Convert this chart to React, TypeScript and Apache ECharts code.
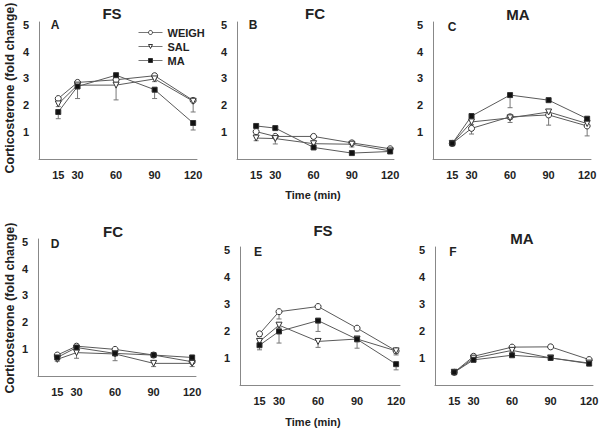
import React, { useEffect, useRef } from "react";
import * as echarts from "echarts";

const times = [15, 30, 60, 90, 120];
const yTicks = [1, 2, 3, 4, 5];
const seriesNames = ["WEIGH", "SAL", "MA"];
const panelTitles = ["FS", "FC", "MA", "FC", "FS", "MA"];
const panelLetters = ["A", "B", "C", "D", "E", "F"];
const yName = "Corticosterone (fold change)";
const xName = "Time (min)";

// Panel A (FS)
const weighA = [2.25, 2.85, 2.95, 3.1, 2.18];
const salA = [2.05, 2.75, 2.75, 2.98, 2.15];
const maA = [1.75, 2.7, 3.12, 2.58, 1.34];
const errWeighA = [0.05, 0.08, 0.1, 0.08, 0.05];
const errSalA = [0.1, 0.1, 0.55, 0.1, 0.4];
const errMaA = [0.25, 0.45, 0.1, 0.33, 0.26];
// Panel B (FC)
const weighB = [1.02, 0.84, 0.84, 0.6, 0.38];
const salB = [0.78, 0.76, 0.57, 0.55, 0.3];
const maB = [1.23, 1.15, 0.43, 0.22, 0.28];
const errWeighB = [0.08, 0.08, 0.08, 0.06, 0.05];
const errSalB = [0.1, 0.2, 0.1, 0.1, 0.08];
const errMaB = [0.05, 0.05, 0.05, 0.04, 0.05];
// Panel C (MA)
const weighC = [0.58, 1.14, 1.57, 1.64, 1.23];
const salC = [0.58, 1.38, 1.53, 1.75, 1.32];
const maC = [0.58, 1.6, 2.38, 2.19, 1.5];
const errWeighC = [0.04, 0.21, 0.1, 0.38, 0.37];
const errSalC = [0.04, 0.1, 0.17, 0.1, 0.1];
const errMaC = [0.04, 0.05, 0.47, 0.05, 0.05];
// Panel D (FC)
const weighD = [0.78, 1.11, 0.99, 0.78, 0.53];
const salD = [0.62, 0.87, 0.82, 0.47, 0.47];
const maD = [0.69, 1.06, 0.84, 0.78, 0.69];
const errWeighD = [0.05, 0.05, 0.05, 0.05, 0.05];
const errSalD = [0.07, 0.21, 0.25, 0.12, 0.12];
const errMaD = [0.05, 0.05, 0.05, 0.05, 0.05];
// Panel E (FS)
const weighE = [1.89, 2.71, 2.9, 2.1, 1.26];
const salE = [1.61, 2.21, 1.61, 1.7, 1.26];
const maE = [1.47, 1.98, 2.38, 1.69, 0.77];
const errWeighE = [0.1, 0.27, 0.1, 0.1, 0.15];
const errSalE = [0.1, 0.1, 0.22, 0.1, 0.1];
const errMaE = [0.17, 0.43, 0.4, 0.33, 0.21];
// Panel F (MA)
const weighF = [0.47, 1.06, 1.4, 1.41, 0.94];
const salF = [0.47, 0.99, 1.28, 1.0, 0.81];
const maF = [0.47, 0.93, 1.1, 1.0, 0.79];
const errWeighF = [0.03, 0.04, 0.04, 0.04, 0.04];
const errSalF = [0.03, 0.04, 0.04, 0.04, 0.04];
const errMaF = [0.03, 0.04, 0.04, 0.04, 0.05];

const panelValues = [
  [weighA, salA, maA],
  [weighB, salB, maB],
  [weighC, salC, maC],
  [weighD, salD, maD],
  [weighE, salE, maE],
  [weighF, salF, maF],
];
const panelErrors = [
  [errWeighA, errSalA, errMaA],
  [errWeighB, errSalB, errMaB],
  [errWeighC, errSalC, errMaC],
  [errWeighD, errSalD, errMaD],
  [errWeighE, errSalE, errMaE],
  [errWeighF, errSalF, errMaF],
];

const FONT = "'Liberation Sans', Arial, sans-serif";

const grids = [
  { left: 39, top: 22, width: 158, height: 137 },
  { left: 237, top: 22, width: 157, height: 137 },
  { left: 433, top: 22, width: 158, height: 137 },
  { left: 38, top: 239, width: 158, height: 137 },
  { left: 240, top: 247, width: 160, height: 138 },
  { left: 435, top: 247, width: 158, height: 138 },
];
const titlePos = [
  [112, 13], [315, 13], [518, 14], [113, 231], [323, 230], [522, 238],
];
const letterPos = [
  [55, 25], [253, 25], [452, 27], [55, 244], [258, 252], [453, 252],
];

const symbolStyles = [
  { symbol: "circle", symbolSize: 6, symbolRotate: 0, fill: "#ffffff" },
  { symbol: "triangle", symbolSize: 6, symbolRotate: 180, fill: "#ffffff" },
  { symbol: "rect", symbolSize: 5, symbolRotate: 0, fill: "#111111" },
];

export default function App() {
  const ref = useRef<HTMLDivElement>(null);
  useEffect(() => {
    if (!ref.current) return;
    const chart = echarts.init(ref.current, undefined, { renderer: "svg" });

    const xAxis = grids.map((_, i) => ({
      type: "value",
      gridIndex: i,
      min: 0,
      max: 123,
      axisLine: { show: true, lineStyle: { color: "#888", width: 1 } },
      axisTick: { show: false },
      splitLine: { show: false },
      axisLabel: {
        customValues: times,
        margin: 10,
        color: "#222",
        fontSize: 11,
        fontWeight: "bold",
        fontFamily: FONT,
      },
    }));
    const yAxis = grids.map((_, i) => ({
      type: "value",
      gridIndex: i,
      min: 0,
      max: 5.1,
      axisLine: { show: true, lineStyle: { color: "#888", width: 1 } },
      axisTick: { show: false },
      splitLine: { show: false },
      axisLabel: {
        customValues: yTicks,
        margin: 10,
        color: "#222",
        fontSize: 11,
        fontWeight: "bold",
        fontFamily: FONT,
      },
    }));

    const series: any[] = [];
    panelValues.forEach((vals, p) => {
      vals.forEach((arr, s) => {
        const errs = panelErrors[p][s];
        series.push({
          type: "custom",
          xAxisIndex: p,
          yAxisIndex: p,
          z: 1,
          silent: true,
          data: times.map((t, k) => [t, arr[k], arr[k] - errs[k]]),
          renderItem: (params: any, api: any) => {
            const x = api.value(0);
            const y = api.value(1);
            const lo = api.value(2);
            const p1 = api.coord([x, y]);
            const p2 = api.coord([x, lo]);
            return {
              type: "group",
              children: [
                {
                  type: "line",
                  shape: { x1: p1[0], y1: p1[1], x2: p2[0], y2: p2[1] },
                  style: { stroke: "#777", lineWidth: 1 },
                },
                {
                  type: "line",
                  shape: { x1: p2[0] - 2.5, y1: p2[1], x2: p2[0] + 2.5, y2: p2[1] },
                  style: { stroke: "#777", lineWidth: 1 },
                },
              ],
            };
          },
        });
      });
    });
    panelValues.forEach((vals, p) => {
      vals.forEach((arr, s) => {
        const st = symbolStyles[s];
        series.push({
          type: "line",
          name: seriesNames[s],
          xAxisIndex: p,
          yAxisIndex: p,
          z: 3,
          data: times.map((t, k) => [t, arr[k]]),
          symbol: st.symbol,
          symbolSize: st.symbolSize,
          symbolRotate: st.symbolRotate,
          showAllSymbol: true,
          lineStyle: { color: "#5a5a5a", width: 1 },
          itemStyle: { color: st.fill, borderColor: "#333", borderWidth: 1 },
        });
      });
    });

    const graphic: any[] = [];
    panelTitles.forEach((t, i) => {
      graphic.push({
        type: "text",
        x: titlePos[i][0],
        y: titlePos[i][1],
        style: {
          text: t,
          font: `bold 15px ${FONT}`,
          fill: "#222",
          textAlign: "center",
          textVerticalAlign: "middle",
        },
      });
    });
    panelLetters.forEach((t, i) => {
      graphic.push({
        type: "text",
        x: letterPos[i][0],
        y: letterPos[i][1],
        style: {
          text: t,
          font: `bold 12px ${FONT}`,
          fill: "#222",
          textAlign: "center",
          textVerticalAlign: "middle",
        },
      });
    });
    [[10, 88], [10, 308]].forEach(([x, y]) => {
      graphic.push({
        type: "text",
        x,
        y,
        rotation: Math.PI / 2,
        style: {
          text: yName,
          font: `bold 12.5px ${FONT}`,
          fill: "#222",
          textAlign: "center",
          textVerticalAlign: "middle",
        },
      });
    });
    [[313, 195], [313, 422]].forEach(([x, y]) => {
      graphic.push({
        type: "text",
        x,
        y,
        style: {
          text: xName,
          font: `bold 11px ${FONT}`,
          fill: "#222",
          textAlign: "center",
          textVerticalAlign: "middle",
        },
      });
    });

    chart.setOption({
      animation: false,
      backgroundColor: "#ffffff",
      grid: grids,
      xAxis,
      yAxis,
      legend: {
        data: seriesNames,
        orient: "vertical",
        left: 133,
        top: 22,
        itemWidth: 24,
        itemHeight: 5,
        itemGap: 3,
        selectedMode: false,
        lineStyle: { width: 1, color: "#777" },
        itemStyle: { borderWidth: 1 },
        textStyle: { fontSize: 11, fontWeight: "bold", color: "#222", fontFamily: FONT },
      },
      series,
      graphic,
    });
    return () => chart.dispose();
  }, []);
  return (
    <div
      ref={ref}
      style={{ position: "fixed", left: 0, top: 0, width: 604, height: 434, background: "#fff" }}
    />
  );
}
